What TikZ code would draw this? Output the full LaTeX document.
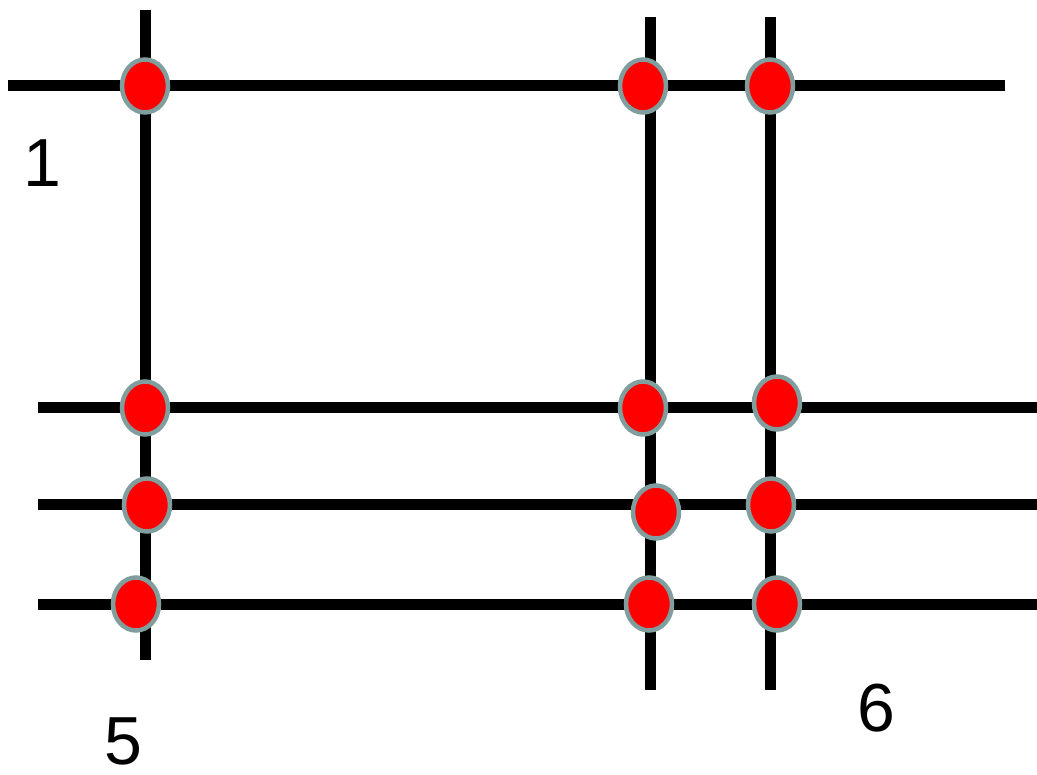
\documentclass[tikz,border=0pt]{standalone}
\usepackage{fontspec}
\setmainfont{Liberation Sans}
\usetikzlibrary{shapes.geometric}
\definecolor{rim}{RGB}{128,158,158}
\definecolor{dotred}{RGB}{255,0,0}
\tikzset{
  wire/.style={line width=11pt, black},
  dot/.style={ellipse, draw=rim, line width=4.5pt, fill=dotred, minimum width=46pt, minimum height=53pt, inner sep=0pt},
  lab/.style={font=\fontsize{68}{68}\selectfont, inner sep=0pt}
}
\begin{document}
\begin{tikzpicture}[x=1pt,y=-1pt]
\useasboundingbox (0,0) rectangle (1037,775);
% line end coordinates
\coordinate (h1a) at (8,86);    \coordinate (h1b) at (1005,86);
\coordinate (h2a) at (38,408);  \coordinate (h2b) at (1037,408);
\coordinate (h3a) at (38,505);  \coordinate (h3b) at (1037,505);
\coordinate (h4a) at (38,604);  \coordinate (h4b) at (1037,604);
\coordinate (v1a) at (145,10);  \coordinate (v1b) at (145,660);
\coordinate (v2a) at (650,17);  \coordinate (v2b) at (650,690);
\coordinate (v3a) at (770,17);  \coordinate (v3b) at (770,690);
\draw[wire] (h1a) -- (h1b);
\draw[wire] (h2a) -- (h2b);
\draw[wire] (h3a) -- (h3b);
\draw[wire] (h4a) -- (h4b);
\draw[wire] (v1a) -- (v1b);
\draw[wire] (v2a) -- (v2b);
\draw[wire] (v3a) -- (v3b);
% dots
\node[dot] (d11) at (145,86) {};
\node[dot] (d12) at (643,86) {};
\node[dot] (d13) at (770,86) {};
\node[dot] (d21) at (145,408) {};
\node[dot] (d22) at (643,408) {};
\node[dot] (d23) at (777,403) {};
\node[dot] (d31) at (147,505) {};
\node[dot] (d32) at (656,512) {};
\node[dot] (d33) at (771,505) {};
\node[dot] (d41) at (136,604) {};
\node[dot] (d42) at (649,604) {};
\node[dot] (d43) at (777,604) {};
% labels
\node[lab] (l1) at (42,163) {1};
\node[lab] (l5) at (123,741) {5};
\node[lab] (l6) at (876,708) {6};
\end{tikzpicture}
\end{document}
